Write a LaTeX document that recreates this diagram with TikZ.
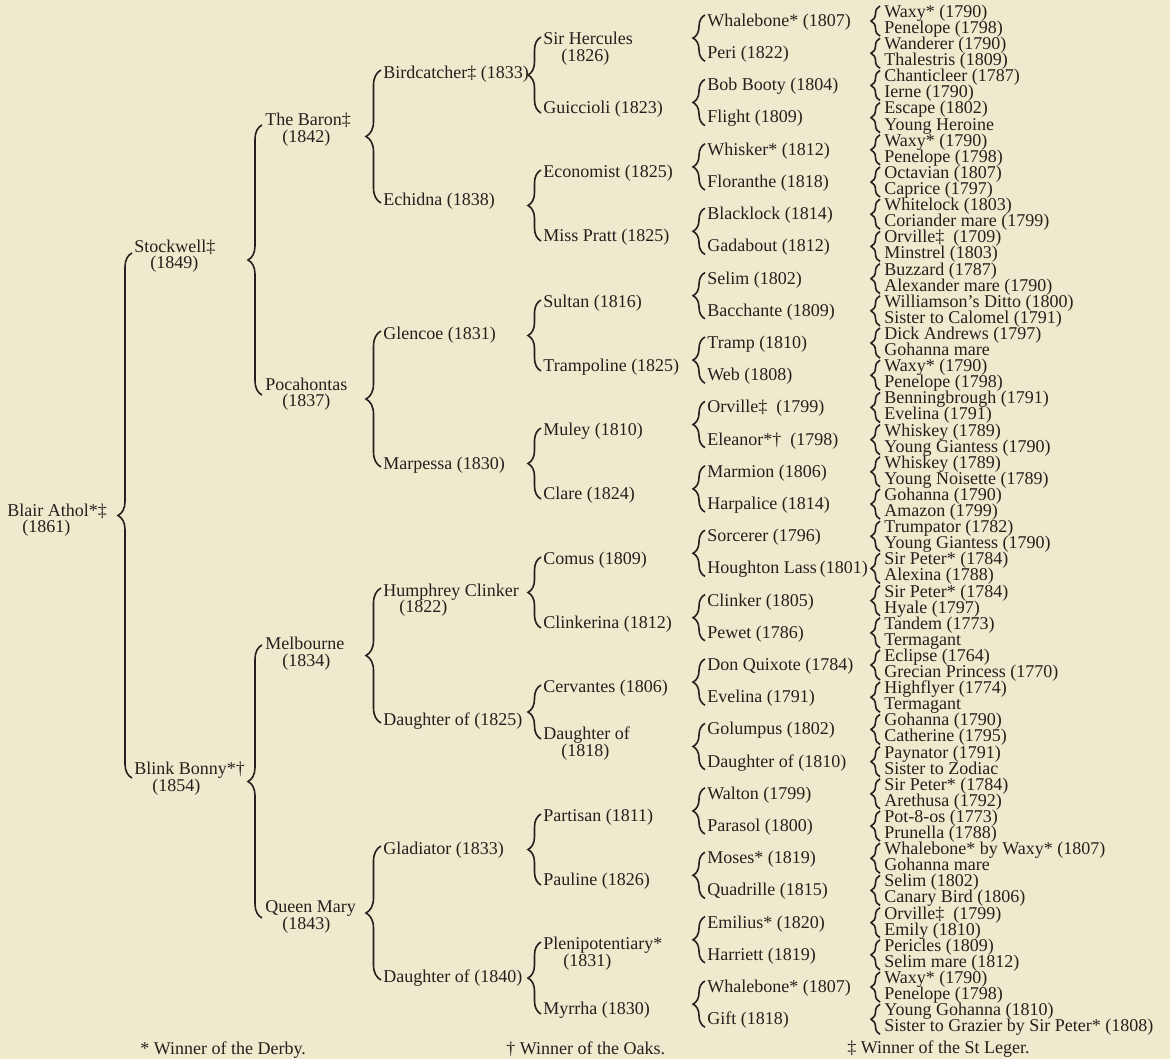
\documentclass[tikz,border=0pt]{standalone}
\usepackage{fontspec}
\setmainfont{Liberation Serif}
\usetikzlibrary{decorations.pathreplacing}
\definecolor{paper}{RGB}{239,234,206}
\definecolor{ink}{RGB}{36,32,28}

\begin{document}
\begin{tikzpicture}[
  x=0.5pt, y=-0.5pt,
  % --- entries ---
  horse/.style={anchor=west, inner sep=0pt, text height=6.3pt, text depth=1.9pt,
    font=\fontsize{9}{9}\selectfont, text=ink},
  note/.style={horse},
  % --- braces ---
  brc/.style={draw=ink, line width=0.8pt, decorate,
    decoration={brace, amplitude=#1}},
]

% ===================== PAGE =====================

\useasboundingbox (0,0) rectangle (1170,1059);
\fill[paper] (0,0) rectangle (1170,1059);

% ===================== SIRE AND DAM LINES =====================

\node[horse] (blair) at (7,512) {Blair Athol*‡};
\node[horse] (blairy) at (22,528) {(1861)};

\node[horse] (stockwell) at (134,248) {Stockwell‡};
\node[horse] (stockwelly) at (150,264) {(1849)};
\node[horse] (blink) at (134,770) {Blink Bonny*†};
\node[horse] (blinky) at (152,787) {(1854)};

\node[horse] (baron) at (265,121) {The Baron‡};
\node[horse] (barony) at (282,138) {(1842)};
\node[horse] (pocahontas) at (265,386) {Pocahontas};
\node[horse] (pocahontasy) at (282,402) {(1837)};
\node[horse] (melbourne) at (265,645) {Melbourne};
\node[horse] (melbourney) at (282,662) {(1834)};
\node[horse] (queenmary) at (265,908) {Queen Mary};
\node[horse] (queenmaryy) at (282,925) {(1843)};

% ===================== GRANDPARENTS' PARENTS =====================

\foreach \nm/\yy [count=\k] in {{Birdcatcher‡ (1833)}/74, {Echidna (1838)}/201,
    {Glencoe (1831)}/335, {Marpessa (1830)}/465, {Humphrey Clinker}/592,
    {Daughter of (1825)}/721, {Gladiator (1833)}/850, {Daughter of (1840)}/978}
  \node[horse] (g3-\k) at (383,\yy) {\nm};
\node[horse] (g3-5y) at (399,608) {(1822)};

\foreach \nm/\yy [count=\k] in {{Sir Hercules}/40, {Guiccioli (1823)}/109,
    {Economist (1825)}/173, {Miss Pratt (1825)}/237, {Sultan (1816)}/303,
    {Trampoline (1825)}/367, {Muley (1810)}/431, {Clare (1824)}/495,
    {Comus (1809)}/560, {Clinkerina (1812)}/624, {Cervantes (1806)}/688,
    {Daughter of}/735, {Partisan (1811)}/817, {Pauline (1826)}/881,
    {Plenipotentiary*}/945, {Myrrha (1830)}/1010}
  \node[horse] (g4-\k) at (543,\yy) {\nm};
\node[horse] (g4-1y) at (561,57) {(1826)};
\node[horse] (g4-12y) at (561,752) {(1818)};
\node[horse] (g4-15y) at (563,962) {(1831)};

\foreach \nm [count=\k] in {{Whalebone* (1807)}, {Peri (1822)}, {Bob Booty (1804)},
    {Flight (1809)}, {Whisker* (1812)}, {Floranthe (1818)}, {Blacklock (1814)},
    {Gadabout (1812)}, {Selim (1802)}, {Bacchante (1809)}, {Tramp (1810)},
    {Web (1808)}, {Orville‡~ (1799)}, {Eleanor*†~ (1798)}, {Marmion (1806)},
    {Harpalice (1814)}, {Sorcerer (1796)}, {Houghton Lass\,(1801)},
    {Clinker (1805)}, {Pewet (1786)}, {Don Quixote (1784)}, {Evelina (1791)},
    {Golumpus (1802)}, {Daughter of (1810)}, {Walton (1799)}, {Parasol (1800)},
    {Moses* (1819)}, {Quadrille (1815)}, {Emilius* (1820)}, {Harriett (1819)},
    {Whalebone* (1807)}, {Gift (1818)}}
  \node[horse] (g5-\k) at (707,{22+(\k-1)*32.2}) {\nm};

\foreach \nm [count=\k] in {{Waxy* (1790)}, {Penelope (1798)}, {Wanderer (1790)},
    {Thalestris (1809)}, {Chanticleer (1787)}, {Ierne (1790)}, {Escape (1802)},
    {Young Heroine}, {Waxy* (1790)}, {Penelope (1798)}, {Octavian (1807)},
    {Caprice (1797)}, {Whitelock (1803)}, {Coriander mare (1799)},
    {Orville‡~ (1709)}, {Minstrel (1803)}, {Buzzard (1787)},
    {Alexander mare (1790)}, {Williamson's Ditto (1800)},
    {Sister to Calomel (1791)}, {Dick Andrews (1797)}, {Gohanna mare},
    {Waxy* (1790)}, {Penelope (1798)}, {Benningbrough (1791)}, {Evelina (1791)},
    {Whiskey (1789)}, {Young Giantess (1790)}, {Whiskey (1789)},
    {Young Noisette (1789)}, {Gohanna (1790)}, {Amazon (1799)},
    {Trumpator (1782)}, {Young Giantess (1790)}, {Sir Peter* (1784)},
    {Alexina (1788)}, {Sir Peter* (1784)}, {Hyale (1797)}, {Tandem (1773)},
    {Termagant}, {Eclipse (1764)}, {Grecian Princess (1770)},
    {Highflyer (1774)}, {Termagant}, {Gohanna (1790)}, {Catherine (1795)},
    {Paynator (1791)}, {Sister to Zodiac}, {Sir Peter* (1784)},
    {Arethusa (1792)}, {Pot-8-os (1773)}, {Prunella (1788)},
    {Whalebone* by Waxy* (1807)}, {Gohanna mare}, {Selim (1802)},
    {Canary Bird (1806)}, {Orville‡~ (1799)}, {Emily (1810)}, {Pericles (1809)},
    {Selim mare (1812)}, {Waxy* (1790)}, {Penelope (1798)},
    {Young Gohanna (1810)}, {Sister to Grazier by Sir Peter* (1808)}}
  \node[horse] (g6-\k) at (884,{13+(\k-1)*16.1}) {\nm};

% ===================== BRACES =====================

\draw[brc=7pt] ([shift={(-2,8)}]blink.west) -- ([shift={(-2,5)}]stockwell.west);

\draw[brc=7pt] ([shift={(-3,9)}]pocahontas.west) -- ([shift={(-3,4)}]baron.west);
\draw[brc=7pt] ([shift={(-3,10)}]queenmary.west) -- ([shift={(-3,0)}]melbourne.west);

\foreach \i in {1,...,4}{
  \pgfmathtruncatemacro\ia{2*\i-1}
  \pgfmathtruncatemacro\ib{2*\i}
  \draw[brc=7.5pt] ([shift={(-2,2)}]g3-\ib.west) -- ([shift={(-2,-4)}]g3-\ia.west);
}

\foreach \i in {1,...,8}{
  \pgfmathtruncatemacro\ia{2*\i-1}
  \pgfmathtruncatemacro\ib{2*\i}
  \draw[brc=6.5pt] ([shift={(-2,4)}]g4-\ib.west) -- ([shift={(-2,-3)}]g4-\ia.west);
}

\foreach \i in {1,...,16}{
  \pgfmathtruncatemacro\ia{2*\i-1}
  \pgfmathtruncatemacro\ib{2*\i}
  \draw[brc=6pt] ([shift={(-2,7)}]g5-\ib.west) -- ([shift={(-2,-7)}]g5-\ia.west);
}

\foreach \i in {1,...,32}{
  \pgfmathtruncatemacro\ia{2*\i-1}
  \pgfmathtruncatemacro\ib{2*\i}
  \draw[brc=4.5pt] ([shift={(-4,7)}]g6-\ib.west) -- ([shift={(-4,-7)}]g6-\ia.west);
}

% ===================== KEY =====================

\node[note] (derby) at (140,1050) {* Winner of the Derby.};
\node[note] (oaks) at (506,1050) {† Winner of the Oaks.};
\node[note] (leger) at (847,1049) {‡ Winner of the St Leger.};

\end{tikzpicture}
\end{document}
